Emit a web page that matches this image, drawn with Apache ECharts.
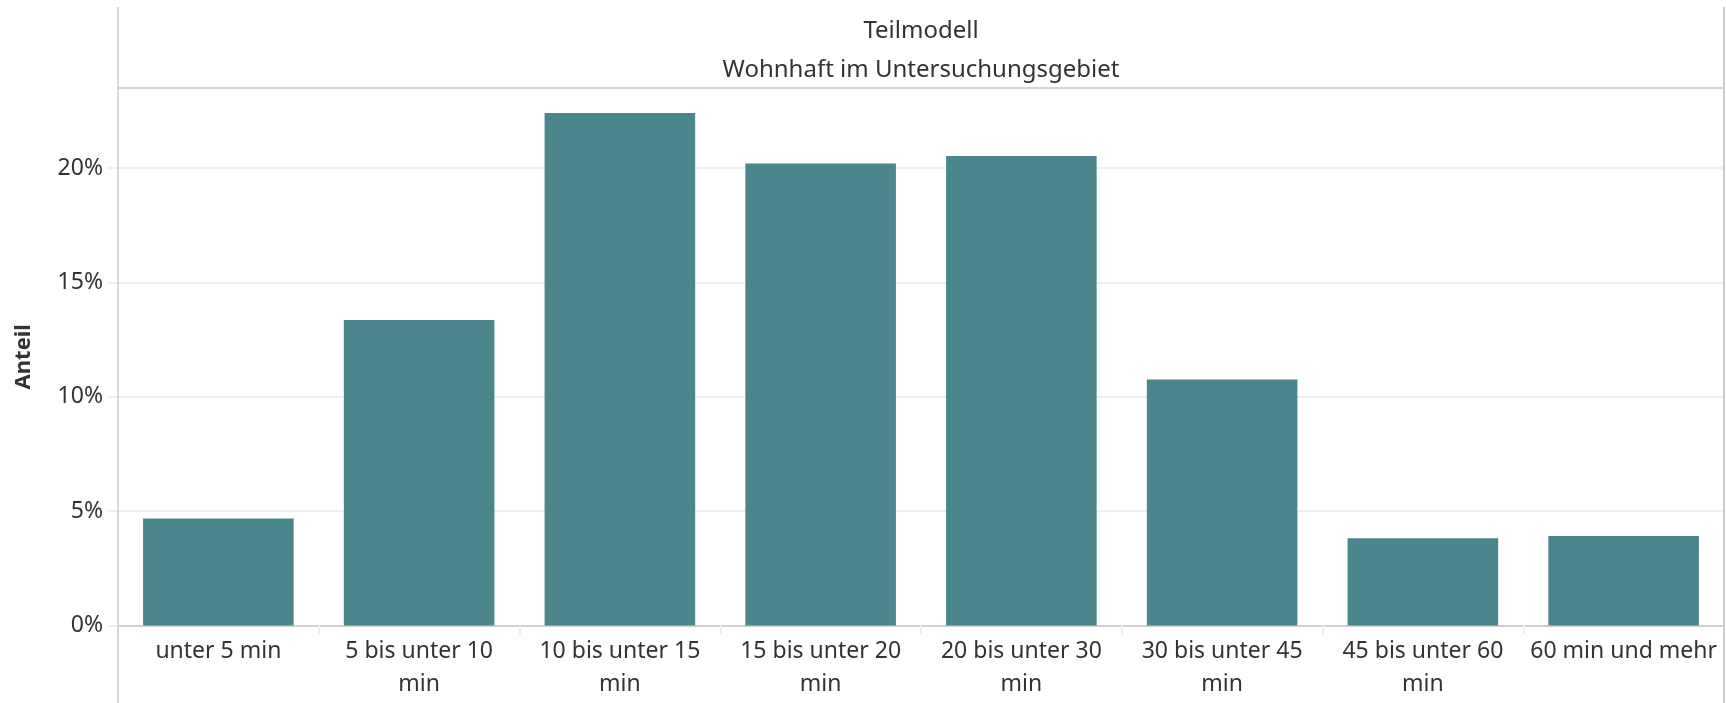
<!DOCTYPE html>
<html>
<head>
<meta charset="utf-8">
<script src="https://cdn.jsdelivr.net/npm/echarts@6/dist/echarts.min.js"></script>
<style>
  html, body { margin: 0; padding: 0; background: #fff; }
  #chart { width: 1726px; height: 703px; }
</style>
</head>
<body>
<div id="chart"></div>
<script>
// Kategorien (Wegezeit) und Anteile in %
var categories = ['unter 5 min', '5 bis unter 10 min', '10 bis unter 15 min', '15 bis unter 20 min',
  '20 bis unter 30 min', '30 bis unter 45 min', '45 bis unter 60 min', '60 min und mehr']
var anteil = [4.68, 13.36, 22.41, 20.20, 20.53, 10.75, 3.82, 3.91]
var yTicks = [0, 5, 10, 15, 20]
var headerTitle = 'Teilmodell'
var headerValue = 'Wohnhaft im Untersuchungsgebiet'

var myChart = echarts.init(document.getElementById('chart'))
var font = '"Noto Sans", sans-serif'
var textColor = '#333333'

var option = {
  animation: false,
  title: [
    {
      text: headerTitle,
      left: 921,
      top: 19,
      textAlign: 'center',
      padding: 0,
      textStyle: { fontFamily: font, fontSize: 24, fontWeight: 'normal', color: textColor }
    },
    {
      text: headerValue,
      left: 921,
      top: 58,
      textAlign: 'center',
      padding: 0,
      textStyle: { fontFamily: font, fontSize: 24, fontWeight: 'normal', color: textColor }
    }
  ],
  grid: {
    left: 118,
    right: 2,
    top: 88,
    bottom: 77.5,
    containLabel: false
  },
  xAxis: {
    type: 'category',
    data: categories,
    boundaryGap: true,
    axisLine: { show: true, lineStyle: { color: '#d0d0d0', width: 2 } },
    axisTick: { show: true, length: 9, lineStyle: { color: '#eeeeee', width: 2 } },
    axisLabel: {
      interval: 0,
      margin: 9,
      lineHeight: 33,
      fontFamily: font,
      fontSize: 23,
      color: textColor,
      // lange "bis"-Beschriftungen vor dem letzten Wort umbrechen
      formatter: function (v) {
        if (v.indexOf('bis') < 0) return v
        var i = v.lastIndexOf(' ')
        return v.slice(0, i) + '\n' + v.slice(i + 1)
      }
    }
  },
  yAxis: {
    type: 'value',
    min: 0,
    max: 23.5,
    interval: 5,
    name: 'Anteil',
    nameLocation: 'middle',
    nameGap: 83,
    nameTextStyle: { fontFamily: font, fontSize: 22, fontWeight: 'bold', color: textColor },
    axisLine: { show: false },
    axisTick: { show: true, length: 10, lineStyle: { color: '#efefef', width: 2 } },
    splitLine: { show: true, lineStyle: { color: '#efefef', width: 2 } },
    axisLabel: {
      showMaxLabel: false,
      margin: 15,
      fontFamily: font,
      fontSize: 23,
      color: textColor,
      formatter: function (v) {
        return yTicks.indexOf(v) >= 0 ? v + '%' : ''
      }
    }
  },
  series: [
    {
      name: 'Anteil',
      type: 'bar',
      data: anteil,
      barWidth: '75%',
      itemStyle: { color: '#4a868b' }
    }
  ],
  graphic: [
    // Rahmenlinien wie im Tableau-Blatt
    { type: 'line', shape: { x1: 118, y1: 7, x2: 118, y2: 703 }, style: { stroke: '#cccccc', lineWidth: 1.5 }, z: 10 },
    { type: 'line', shape: { x1: 1724, y1: 7, x2: 1724, y2: 703 }, style: { stroke: '#cccccc', lineWidth: 2 }, z: 10 },
    { type: 'line', shape: { x1: 118, y1: 88, x2: 1724, y2: 88 }, style: { stroke: '#cccccc', lineWidth: 1.5 }, z: 10 }
  ]
}
myChart.setOption(option)
</script>
</body>
</html>
